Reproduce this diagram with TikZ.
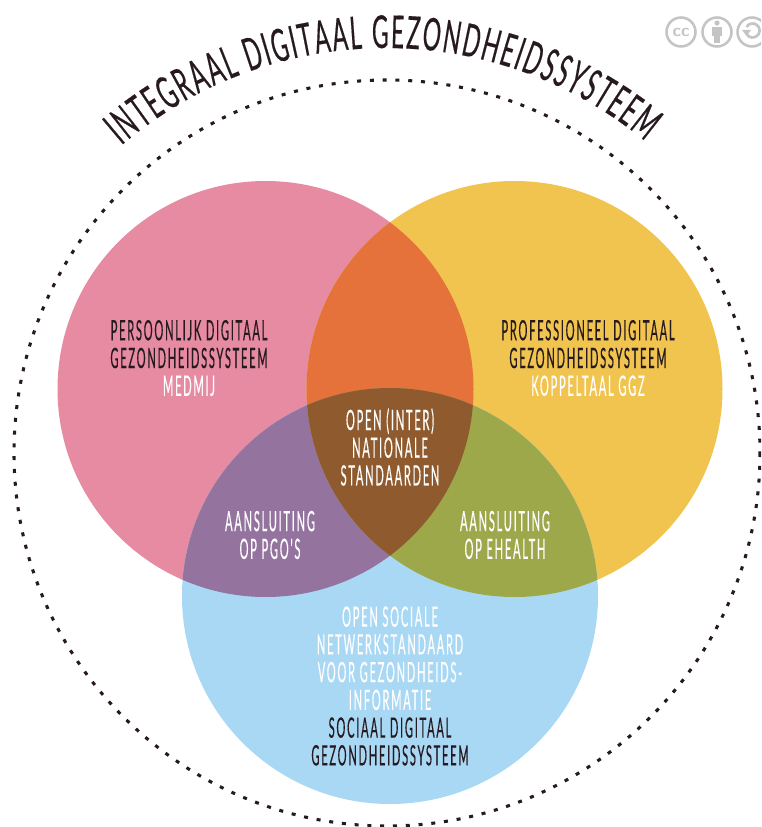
\documentclass[tikz,border=0pt]{standalone}
\usepackage{fontspec}
\usepackage{tikz}
\usetikzlibrary{decorations.text}
\newfontfamily\handfont[FakeStretch=0.40,LetterSpace=6,FakeBold=0.3]{Lato}
\newfontfamily\titlefont[FakeStretch=0.5,FakeBold=0.3]{Lato}
\definecolor{rozeC}{RGB}{230,139,162}
\definecolor{geelC}{RGB}{240,196,79}
\definecolor{blauwC}{RGB}{169,216,245}
\definecolor{oranjeC}{RGB}{228,114,58}
\definecolor{paarsC}{RGB}{148,115,159}
\definecolor{groenC}{RGB}{157,168,75}
\definecolor{bruinC}{RGB}{143,91,46}
\definecolor{donkerC}{RGB}{38,26,32}
\definecolor{iconC}{RGB}{196,196,196}
\newcommand{\rozepad}{(265.5,389) circle [radius=208]}
\newcommand{\geelpad}{(514.5,389) circle [radius=208]}
\newcommand{\blauwpad}{(390,596) circle [radius=208]}
\tikzset{
  bodytext/.style={inner sep=0.75pt,align=center,text=white,font=\handfont\fontsize{21}{20.8}\selectfont},
  icon/.style={draw=iconC,line width=1.9pt}
}
\begin{document}
\begin{tikzpicture}[x=0.75pt,y=0.75pt,yscale=-1,xscale=1]
	\clip (0,0) rectangle (761,827);

	%Shape: Circle (outer dots)
	\draw [line width=2.3pt,dash pattern=on 3pt off 6.6pt,color=donkerC] (387,453) circle [radius=373];

	%Shape: Circles
	\fill [rozeC] \rozepad;
	\fill [geelC] \geelpad;
	\fill [blauwC] \blauwpad;
	%Overlaps
	\begin{scope}
		\clip \rozepad;
		\fill [oranjeC] \geelpad;
		\fill [paarsC] \blauwpad;
	\end{scope}
	\begin{scope}
		\clip \geelpad;
		\fill [groenC] \blauwpad;
		\clip \rozepad;
		\fill [bruinC] \blauwpad;
	\end{scope}

	%Curved title
	\path [decorate,decoration={text along path,text align={fit to path},
		text={|\titlefont\fontsize{34}{34}\selectfont\color{donkerC}|INTEGRAAL DIGITAAL GEZONDHEIDSSYSTEEM}}]
		(121.5,145.5) arc [start angle=-130.5,end angle=-50.5,radius=407];

	% Text Node
	\draw (189,358) node (persoonlijk) [bodytext] {\color{donkerC}PERSOONLIJK DIGITAAL\\\color{donkerC}GEZONDHEIDSSYSTEEM\\MEDMIJ};
	% Text Node
	\draw (588,358) node (professioneel) [bodytext] {\color{donkerC}PROFESSIONEEL DIGITAAL\\\color{donkerC}GEZONDHEIDSSYSTEEM\\KOPPELTAAL GGZ};
	% Text Node
	\draw (390,447) node (standaarden) [bodytext] {OPEN (INTER)\\NATIONALE\\STANDAARDEN};
	% Text Node
	\draw (270,535) node (pgo) [bodytext] {AANSLUITING\\OP PGO'S};
	% Text Node
	\draw (505,535) node (ehealth) [bodytext] {AANSLUITING\\OP EHEALTH};
	% Text Node
	\draw (390,686) node (sociaal) [bodytext] {OPEN SOCIALE\\NETWERKSTANDAARD\\VOOR GEZONDHEIDS-\\INFORMATIE\\\color{donkerC}SOCIAAL DIGITAAL\\\color{donkerC}GEZONDHEIDSSYSTEEM};

	%Icons
	\draw [icon] (681,32) circle [radius=14.5];
	\draw (681,32) node (cc) [inner sep=0pt,text=iconC,font=\sffamily\bfseries\fontsize{13}{13}\selectfont] {cc};
	\draw [icon] (717,32) circle [radius=14.5];
	\fill [iconC] (717,23) circle [radius=2.6];
	\fill [iconC] (712,27) rectangle (722,36);
	\fill [iconC] (714,36) rectangle (720,43);
	\draw [icon] (752,32) circle [radius=14.5];
	\draw [iconC,line width=2pt] (746.5,27) arc [start angle=-150,end angle=150,radius=7];
	\fill [iconC] (742,30) -- (751,30) -- (746.5,36) -- cycle;
\end{tikzpicture}
\end{document}
